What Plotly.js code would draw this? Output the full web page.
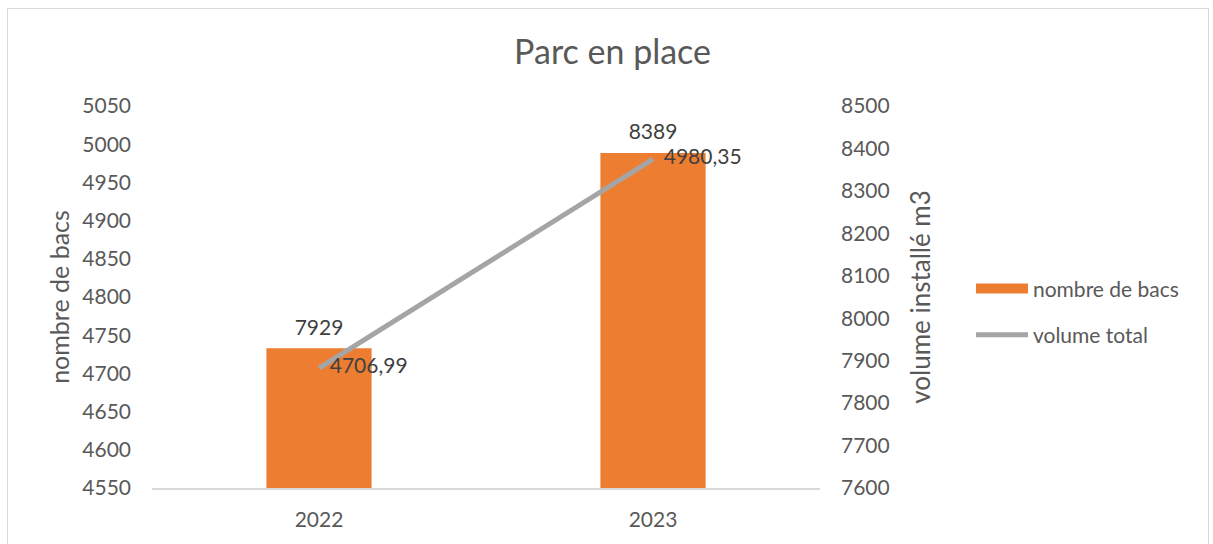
<!DOCTYPE html>
<html>
<head>
<meta charset="utf-8">
<script src="https://cdn.plot.ly/plotly-3.0.1.min.js"></script>
<style>
  html, body { margin: 0; padding: 0; background: #fff; }
  #chart { position: absolute; left: 0; top: 0; width: 1213px; height: 544px; }
  #frame { position: absolute; left: 7px; top: 8px; width: 1200px; height: 560px; border: 1px solid #d9d9d9; pointer-events: none; }
</style>
</head>
<body>
<div id="chart"></div>
<div id="frame"></div>
<script>
const years = ['2022', '2023'];
const nombreBacs = [7929, 8389];
const volumeTotal = [4706.99, 4980.35];
const leftTicks = [4550, 4600, 4650, 4700, 4750, 4800, 4850, 4900, 4950, 5000, 5050];
const rightTicks = [7600, 7700, 7800, 7900, 8000, 8100, 8200, 8300, 8400, 8500];

const fmt = v => String(v).replace('.', ',');
const FONT = 'Lato, Carlito, Calibri, sans-serif';

const traces = [
  {
    type: 'bar',
    name: 'nombre de bacs',
    x: years,
    y: nombreBacs,
    yaxis: 'y',
    marker: { color: '#ED7D31' },
    showlegend: false,
    hoverinfo: 'skip'
  },
  {
    // data labels of the bars
    type: 'scatter',
    mode: 'markers+text',
    x: years,
    y: nombreBacs,
    yaxis: 'y',
    marker: { size: 12, opacity: 0 },
    text: nombreBacs.map(fmt),
    textposition: 'top center',
    cliponaxis: false,
    textfont: { family: FONT, size: 21, color: '#404040' },
    showlegend: false,
    hoverinfo: 'skip'
  },
  {
    // legend entry only (wide swatch like the reference)
    type: 'scatter',
    mode: 'lines',
    name: 'nombre de bacs',
    x: years,
    y: nombreBacs.map(() => null),
    yaxis: 'y',
    line: { color: '#ED7D31', width: 14 },
    legendgroup: 'a',
    showlegend: true,
    hoverinfo: 'skip'
  },
  {
    type: 'scatter',
    mode: 'lines+text',
    name: 'volume total',
    x: years,
    y: volumeTotal,
    yaxis: 'y2',
    line: { color: '#A5A5A5', width: 5 },
    text: volumeTotal.map(v => '\u00a0\u00a0' + fmt(v)),
    textposition: 'middle right',
    cliponaxis: false,
    textfont: { family: FONT, size: 21, color: '#404040' },
    legendgroup: 'b',
    hoverinfo: 'skip'
  }
];

const layout = {
  width: 1213,
  height: 544,
  margin: { l: 152, r: 393, t: 106, b: 56 },
  paper_bgcolor: 'rgba(0,0,0,0)',
  plot_bgcolor: 'rgba(0,0,0,0)',
  font: { family: FONT, color: '#595959', size: 21 },
  title: {
    text: 'Parc en place',
    font: { family: FONT, size: 34, color: '#595959' },
    x: 0.505, xref: 'container', xanchor: 'center',
    y: 0.905, yref: 'container', yanchor: 'middle'
  },
  bargap: 0.685,
  showlegend: true,
  legend: {
    x: 1.226, xref: 'paper', xanchor: 'left',
    y: 0.575, yanchor: 'top',
    traceorder: 'grouped',
    tracegroupgap: 16,
    itemwidth: 52,
    font: { family: FONT, size: 21, color: '#595959' },
    bgcolor: 'rgba(0,0,0,0)'
  },
  xaxis: {
    type: 'category',
    showgrid: false,
    showline: true,
    linecolor: '#d9d9d9',
    linewidth: 2,
    ticks: '',
    ticklabelstandoff: 12,
    tickfont: { family: FONT, size: 21, color: '#595959' },
    zeroline: false
  },
  yaxis: {
    side: 'right',
    range: [7600, 8500],
    tickvals: rightTicks,
    ticktext: rightTicks.map(String),
    showgrid: false,
    zeroline: false,
    showline: false,
    ticks: '',
    ticklabelstandoff: 20,
    tickfont: { family: FONT, size: 21, color: '#595959' },
    title: { text: 'volume installé m3', font: { family: FONT, size: 26, color: '#595959' }, standoff: 23 }
  },
  yaxis2: {
    side: 'left',
    overlaying: 'y',
    range: [4550, 5050],
    tickvals: leftTicks,
    ticktext: leftTicks.map(String),
    showgrid: false,
    zeroline: false,
    showline: false,
    ticks: '',
    ticklabelstandoff: 20,
    tickfont: { family: FONT, size: 21, color: '#595959' },
    title: { text: 'nombre de bacs', font: { family: FONT, size: 25, color: '#595959' }, standoff: 5 }
  }
};

Plotly.newPlot('chart', traces, layout, { staticPlot: true, displayModeBar: false });
</script>
</body>
</html>
